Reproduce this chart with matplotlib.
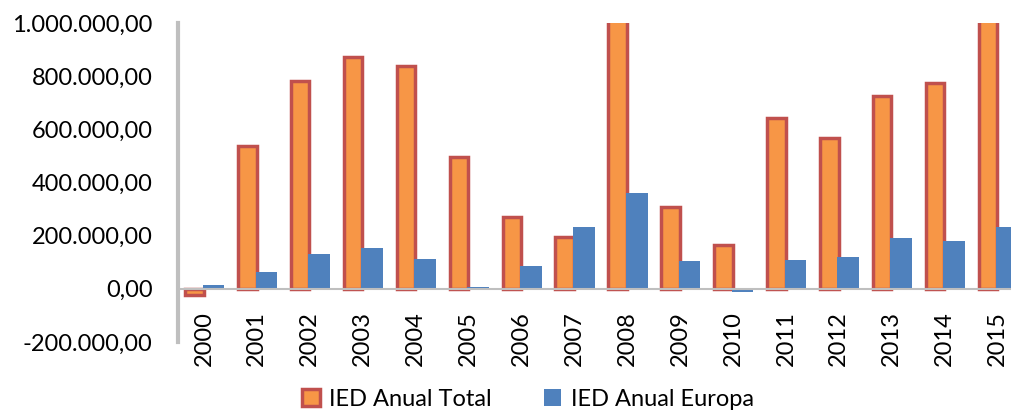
import matplotlib
matplotlib.use("Agg")
import matplotlib.pyplot as plt
from matplotlib.ticker import FuncFormatter, MultipleLocator
from matplotlib.patches import Patch
import numpy as np

plt.rcParams['font.family'] = ['Lato', 'DejaVu Sans']

years = [str(y) for y in range(2000, 2016)]
ied_total = [-22000, 538000, 783000, 872000, 838000, 495000, 271000, 194000,
             1150000, 306000, 165000, 644000, 569000, 727000, 775000, 1100000]
ied_europa = [15000, 65000, 131000, 155000, 113000, 5000, 86000, 234000,
              359000, 106000, -12000, 110000, 121000, 193000, 181000, 231000]

orange = '#F79646'
orange_edge = '#C0504D'
blue = '#4F81BD'
grey = '#BFBFBF'


def pt_fmt(v, pos):
    s = f"{v:,.2f}"
    return s.replace(',', 'X').replace('.', ',').replace('X', '.')


fig = plt.figure(figsize=(10.12, 4.12), dpi=100)
ax = fig.add_axes([0.1754, 0.170, 0.8364, 0.774])

x = np.arange(len(years))
ax.bar(x - 0.18, ied_total, width=0.35, color=orange, edgecolor=orange_edge,
       linewidth=2.5, zorder=2)
ax.bar(x + 0.18, ied_europa, width=0.41, color=blue, zorder=3)

ax.set_xlim(-0.5, len(years) - 0.5)
ax.set_ylim(-200000, 1000000)
ax.yaxis.set_major_locator(MultipleLocator(200000))
ax.yaxis.set_major_formatter(FuncFormatter(pt_fmt))

ax.set_xticks(x)
ax.set_xticklabels(years)

for s in ['top', 'right']:
    ax.spines[s].set_visible(False)
ax.spines['bottom'].set_position(('data', 0))
ax.spines['bottom'].set_color(grey)
ax.spines['bottom'].set_linewidth(1.5)
ax.spines['bottom'].set_zorder(4)
ax.spines['left'].set_color(grey)
ax.spines['left'].set_linewidth(3)

ax.tick_params(axis='y', length=0, pad=18, labelsize=17)
ax.tick_params(axis='x', length=0, pad=16, labelsize=17, labelrotation=90)

handles = [Patch(facecolor=orange, edgecolor=orange_edge, linewidth=2.5),
           Patch(facecolor=blue)]
fig.legend(handles, ['IED Anual Total', 'IED Anual Europa'], loc='center',
           bbox_to_anchor=(528 / 1012, 1 - 399 / 412), ncol=2, frameon=False,
           fontsize=17, handlelength=0.75, handleheight=0.75, handletextpad=0.4,
           columnspacing=2.2)

fig.savefig('out.png', dpi=100)
